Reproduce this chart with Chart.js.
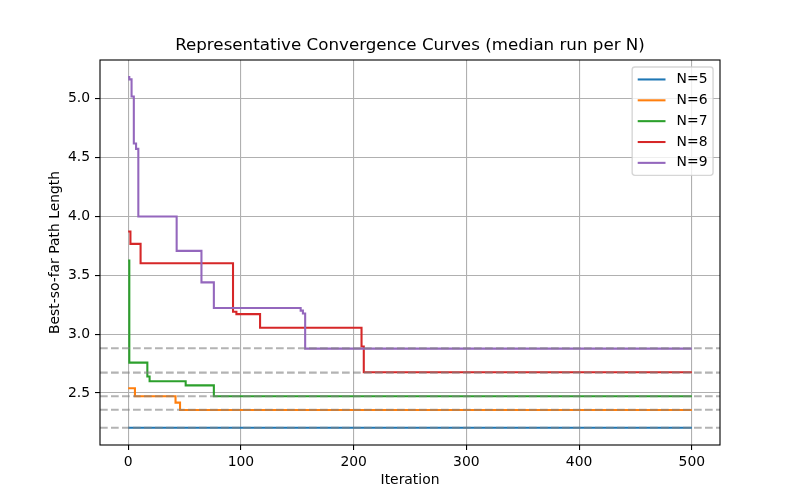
<!DOCTYPE html>
<html>
<head>
<meta charset="utf-8">
<script src="https://cdn.jsdelivr.net/npm/chart.js@4.4.1/dist/chart.umd.min.js"></script>
<style>
  html, body { margin: 0; padding: 0; background: #fff; }
  #wrap { width: 800px; height: 500px; }
</style>
</head>
<body>
<div id="wrap"><canvas id="c" width="800" height="500"></canvas></div>
<script>
// ---- data ----
const labels = ['N=5', 'N=6', 'N=7', 'N=8', 'N=9'];
const colors = ['#1f77b4', '#ff7f0e', '#2ca02c', '#d62728', '#9467bd'];

// change points: iteration at which best-so-far value changes, and the new value
const itersN5 = [0, 500];
const valsN5  = [2.205, 2.205];

const itersN6 = [0, 6, 42, 46, 500];
const valsN6  = [2.540, 2.472, 2.418, 2.356, 2.356];

const itersN7 = [0, 1, 17, 19, 51, 76, 500];
const valsN7  = [3.625, 2.758, 2.640, 2.600, 2.565, 2.472, 2.472];

const itersN8 = [0, 2, 11, 93, 96, 117, 207, 209, 500];
const valsN8  = [3.872, 3.767, 3.603, 3.190, 3.170, 3.055, 2.895, 2.676, 2.676];

const itersN9 = [0, 1, 3, 5, 7, 9, 43, 65, 76, 153, 155, 157, 500];
const valsN9  = [5.185, 5.165, 5.020, 4.620, 4.575, 4.000, 3.708, 3.440, 3.222, 3.200, 3.175, 2.877, 2.877];

// optimal (reference) lengths, drawn as dashed horizontal lines
const optimal = [2.205, 2.358, 2.472, 2.673, 2.880];

const xTicks = [0, 100, 200, 300, 400, 500];
const yTicks = [2.5, 3.0, 3.5, 4.0, 4.5, 5.0];

const xRange = [-25, 525];
const yRange = [2.058, 5.33];

// ---- build datasets ----
const iterSets = [itersN5, itersN6, itersN7, itersN8, itersN9];
const valSets  = [valsN5, valsN6, valsN7, valsN8, valsN9];

const datasets = [];
optimal.forEach((v) => {
  datasets.push({
    label: '_opt',
    data: [{x: xRange[0], y: v}, {x: xRange[1], y: v}],
    borderColor: 'rgba(128,128,128,0.6)',
    borderWidth: 2.08,
    borderDash: [7.7, 3.3],
    pointRadius: 0,
    order: 0,
    isRef: true
  });
});
labels.forEach((lab, i) => {
  datasets.push({
    label: lab,
    data: iterSets[i].map((x, k) => ({x: x, y: valSets[i][k]})),
    borderColor: colors[i],
    backgroundColor: colors[i],
    borderWidth: 2.08,
    pointRadius: 0,
    stepped: true,
    tension: 0,
    order: 5 - i
  });
});

Chart.defaults.font.family = "'DejaVu Sans', sans-serif";
Chart.defaults.color = '#000';

const FS = 13.9;

const framePlugin = {
  id: 'frame',
  afterDatasetsDraw(chart) {
    const {ctx, chartArea: a} = chart;
    ctx.save();
    ctx.strokeStyle = '#000';
    ctx.lineWidth = 1.1;
    ctx.strokeRect(a.left, a.top, a.right - a.left, a.bottom - a.top);
    ctx.restore();
  },
  afterDraw(chart) {
    const {ctx, chartArea: a} = chart;
    const items = chart.data.datasets.filter(d => !d.isRef);
    ctx.save();
    ctx.font = FS + "px 'DejaVu Sans'";
    let tw = 0;
    items.forEach(d => { tw = Math.max(tw, ctx.measureText(d.label).width); });
    const pad = 0.4 * FS, handle = 2.0 * FS, gap = 0.8 * FS, rowH = FS, spacing = 0.5 * FS;
    const w = 2 * pad + handle + gap + tw;
    const h = 2 * pad + items.length * rowH + (items.length - 1) * spacing;
    const x = a.right - 0.5 * FS - w;
    const y = a.top + 0.5 * FS;
    const r = 0.2 * FS;
    ctx.beginPath();
    ctx.moveTo(x + r, y);
    ctx.lineTo(x + w - r, y);
    ctx.arcTo(x + w, y, x + w, y + r, r);
    ctx.lineTo(x + w, y + h - r);
    ctx.arcTo(x + w, y + h, x + w - r, y + h, r);
    ctx.lineTo(x + r, y + h);
    ctx.arcTo(x, y + h, x, y + h - r, r);
    ctx.lineTo(x, y + r);
    ctx.arcTo(x, y, x + r, y, r);
    ctx.closePath();
    ctx.fillStyle = 'rgba(255,255,255,0.8)';
    ctx.fill();
    ctx.strokeStyle = 'rgba(204,204,204,0.8)';
    ctx.lineWidth = 1.39;
    ctx.stroke();
    items.forEach((d, i) => {
      const cy = y + pad + rowH / 2 + i * (rowH + spacing);
      ctx.beginPath();
      ctx.moveTo(x + pad, cy);
      ctx.lineTo(x + pad + handle, cy);
      ctx.strokeStyle = d.borderColor;
      ctx.lineWidth = 2.08;
      ctx.stroke();
      ctx.fillStyle = '#000';
      ctx.textBaseline = 'middle';
      ctx.textAlign = 'left';
      ctx.fillText(d.label, x + pad + handle + gap, cy);
    });
    ctx.restore();
  }
};

new Chart(document.getElementById('c'), {
  type: 'line',
  data: { datasets: datasets },
  options: {
    responsive: false,
    animation: false,
    devicePixelRatio: 1,
    layout: { padding: { left: 0, right: 80, top: 0, bottom: 0 } },
    plugins: {
      legend: { display: false },
      tooltip: { enabled: false },
      title: {
        display: true,
        fullSize: false,
        text: 'Representative Convergence Curves (median run per N)',
        font: { size: 16.7, weight: 'normal' },
        color: '#000',
        padding: { top: 36, bottom: 3.96 }
      }
    },
    scales: {
      x: {
        type: 'linear',
        min: xRange[0],
        max: xRange[1],
        afterFit: (s) => { s.height = 55; },
        afterBuildTicks: (s) => { s.ticks = xTicks.map(v => ({value: v})); },
        ticks: { font: { size: FS }, padding: 4, maxRotation: 0, autoSkip: false,
                 callback: (v) => String(v) },
        grid: { color: '#b0b0b0', lineWidth: 1.1, tickColor: '#000', tickLength: 5, tickWidth: 1.1 },
        border: { display: false },
        title: { display: true, text: 'Iteration', font: { size: FS }, padding: { top: 0, bottom: 11.7 } }
      },
      y: {
        type: 'linear',
        min: yRange[0],
        max: yRange[1],
        afterFit: (s) => { s.width = 100; },
        afterBuildTicks: (s) => { s.ticks = yTicks.map(v => ({value: v})); },
        ticks: { font: { size: FS }, padding: 5, autoSkip: false,
                 callback: (v) => Number(v).toFixed(1) },
        grid: { color: '#b0b0b0', lineWidth: 1.1, tickColor: '#000', tickLength: 5, tickWidth: 1.1 },
        border: { display: false },
        title: { display: true, text: 'Best-so-far Path Length', font: { size: FS }, padding: { top: 46.7, bottom: 0 } }
      }
    }
  },
  plugins: [framePlugin]
});
</script>
</body>
</html>
